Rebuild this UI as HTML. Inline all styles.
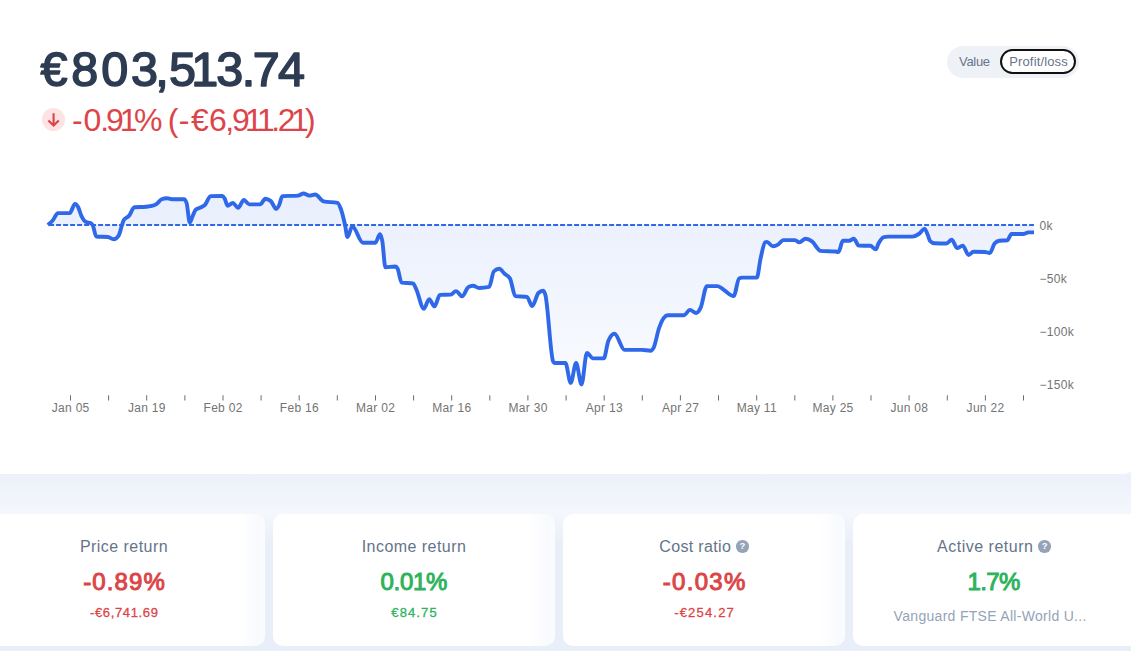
<!DOCTYPE html>
<html><head><meta charset="utf-8">
<style>
*{margin:0;padding:0;box-sizing:border-box}
html,body{width:1131px;height:651px;overflow:hidden}
body{background:#e9eff9;font-family:"Liberation Sans", Arial, sans-serif;position:relative}
.top{position:absolute;left:0;top:0;width:1134px;height:473.7px;background:#fff;border-bottom-right-radius:10px}
.chart{position:absolute;left:0;top:0}
.band{position:absolute;left:0;top:470px;width:1131px;height:72px;background:linear-gradient(to bottom,#ecf1fa 0,#ecf1fa 6px,#f4f7fc 44px,#e9eff9 72px)}
.ax{font-family:"Liberation Sans", Arial, sans-serif;font-size:12px;fill:#747474;letter-spacing:0.3px}
.big{font-family:"Liberation Sans", Arial, sans-serif;font-size:48.5px;font-weight:400;fill:#2d3c52;stroke:#2d3c52;stroke-width:1.6px;stroke-linejoin:round}
.chg{font-family:"Liberation Sans", Arial, sans-serif;font-size:32px;font-weight:400;fill:#dd4449}
.dot{position:absolute;left:41.8px;top:108.4px;width:23px;height:23px;border-radius:50%;background:#fde3e3}
.dot svg{position:absolute;left:0;top:0}
.tog{position:absolute;left:947px;top:46.2px;width:131.5px;height:31.5px;border-radius:16px;background:#eef2f7}
.tog .v{position:absolute;left:12px;top:8.8px;font-size:13px;line-height:1;color:#66758a;letter-spacing:-0.3px}
.tog .p{position:absolute;left:52.7px;top:2.8px;width:76.4px;height:25.1px;border-radius:13px;background:#fff;border:2px solid #111}
.tog .p span{position:absolute;left:7.5px;letter-spacing:0.15px;top:4.0px;font-size:13px;line-height:1;color:#66758a;white-space:nowrap}
.card{position:absolute;top:513.7px;width:282px;height:132.3px;background:linear-gradient(to right,#fff 0,#fff calc(100% - 26px),#f9fafe calc(100% - 6px),#fbfcfe 100%);border-radius:10px;text-align:center}
.ctitle{position:absolute;left:0;right:0;top:25.4px;font-size:16px;line-height:1;color:#64748b;white-space:nowrap}
.q{display:inline-block;width:12.5px;height:12.5px;border-radius:50%;background:#94a3b8;color:#fff;font-size:9.5px;font-weight:700;line-height:12.5px;text-align:center;margin-left:5px;vertical-align:3px;letter-spacing:0}
.cval{position:absolute;left:0;right:0;top:56.4px;font-size:24px;line-height:1;font-weight:400;-webkit-text-stroke:1px currentColor;white-space:nowrap}
.sub{position:absolute;left:0;right:0;top:92.1px;font-size:13px;line-height:1;white-space:nowrap;-webkit-text-stroke:0.3px currentColor}
.sub.gray{top:95.3px;font-size:14px;color:#94a3b8 !important;padding-right:8px;-webkit-text-stroke:0}
.red{color:#dc4548}
.green{color:#2db35c}
</style></head>
<body>
<div class="band"></div>
<div class="top"></div>
<svg class="chart" width="1131" height="474" viewBox="0 0 1131 474">
<defs><linearGradient id="g" x1="0" y1="190" x2="0" y2="390" gradientUnits="userSpaceOnUse"><stop offset="0" stop-color="#2f68e8" stop-opacity="0.11"/><stop offset="1" stop-color="#2f68e8" stop-opacity="0.025"/></linearGradient></defs>
<path d="M47.80,225.00 C49.43,223.69 51.07,222.37 52.70,220.50 C54.47,218.47 56.23,213.10 58.00,213.10 C61.90,213.10 65.80,213.10 69.70,213.10 C71.47,213.10 73.23,203.90 75.00,203.90 C76.07,203.90 77.13,205.32 78.20,207.30 C79.27,209.28 80.33,213.54 81.40,215.80 C83.00,219.19 84.60,221.35 86.20,222.10 C87.77,222.83 89.33,222.47 90.90,223.20 C91.60,223.53 92.30,224.35 93.00,225.80 C94.07,228.01 95.13,236.41 96.20,236.50 C100.10,236.83 104.00,236.67 107.90,237.00 C109.83,237.17 111.77,239.30 113.70,239.30 C115.30,239.30 116.90,238.17 118.50,235.90 C120.27,233.40 122.03,222.80 123.80,220.00 C125.57,217.20 127.33,217.92 129.10,215.80 C130.87,213.68 132.63,207.45 134.40,207.30 C138.30,206.97 142.20,207.13 146.10,206.80 C147.40,206.69 148.70,206.49 150.00,206.20 C152.13,205.73 154.27,205.47 156.40,204.10 C158.17,202.96 159.93,199.97 161.70,199.30 C163.47,198.63 165.23,198.30 167.00,198.30 C169.10,198.30 171.20,199.30 173.30,199.30 C176.87,199.30 180.43,199.10 184.00,199.10 C184.87,199.10 185.73,200.40 186.60,203.00 C187.67,206.20 188.73,222.70 189.80,222.70 C190.67,222.70 191.53,218.72 192.40,216.80 C193.47,214.43 194.53,210.94 195.60,209.90 C197.03,208.50 198.47,208.57 199.90,207.80 C201.67,206.85 203.43,206.55 205.20,204.60 C206.97,202.65 208.73,196.16 210.50,196.10 C214.37,195.97 218.23,195.90 222.10,195.90 C223.00,195.90 223.90,197.17 224.80,198.80 C225.70,200.43 226.60,205.70 227.50,205.70 C229.27,205.70 231.03,203.00 232.80,203.00 C234.57,203.00 236.33,207.80 238.10,207.80 C240.03,207.80 241.97,199.90 243.90,199.90 C245.67,199.90 247.43,204.40 249.20,204.40 C252.90,204.40 256.60,204.40 260.30,204.40 C261.97,204.40 263.63,198.80 265.30,198.80 C267.07,198.80 268.83,199.50 270.60,200.90 C272.53,202.43 274.47,208.90 276.40,208.90 C277.30,208.90 278.20,207.04 279.10,205.20 C280.17,203.02 281.23,196.17 282.30,196.10 C287.60,195.77 292.90,195.93 298.20,195.60 C299.97,195.49 301.73,193.50 303.50,193.50 C305.43,193.50 307.37,195.60 309.30,195.60 C311.27,195.60 313.23,194.50 315.20,194.50 C318.03,194.50 320.87,200.83 323.70,201.40 C328.30,202.33 332.90,201.87 337.50,202.80 C338.53,203.01 339.57,205.62 340.60,208.30 C342.03,212.01 343.47,217.93 344.90,224.30 C345.77,228.15 346.63,237.00 347.50,237.00 C349.10,237.00 350.70,226.40 352.30,226.40 C355.83,226.40 359.37,242.80 362.90,242.80 C367.07,242.80 371.23,242.77 375.40,242.70 C376.93,242.68 378.47,234.20 380.00,234.20 C380.77,234.20 381.53,237.03 382.30,241.10 C383.33,246.59 384.37,267.20 385.40,267.20 C388.73,267.20 392.07,266.50 395.40,266.50 C396.17,266.50 396.93,267.27 397.70,268.80 C398.97,271.32 400.23,282.42 401.50,282.60 C405.33,283.13 409.17,282.87 413.00,283.40 C414.03,283.54 415.07,286.75 416.10,288.80 C418.67,293.89 421.23,308.70 423.80,308.70 C425.60,308.70 427.40,299.20 429.20,299.20 C430.97,299.20 432.73,306.40 434.50,306.40 C436.30,306.40 438.10,295.00 439.90,294.90 C443.50,294.70 447.10,294.80 450.70,294.60 C452.47,294.50 454.23,291.10 456.00,291.10 C458.07,291.10 460.13,296.40 462.20,296.40 C464.23,296.40 466.27,288.50 468.30,287.20 C469.87,286.20 471.43,285.70 473.00,285.70 C475.03,285.70 477.07,288.00 479.10,288.00 C482.47,288.00 485.83,287.63 489.20,286.90 C490.73,286.57 492.27,273.09 493.80,271.50 C495.60,269.63 497.40,268.70 499.20,268.70 C501.00,268.70 502.80,272.18 504.60,273.80 C506.40,275.42 508.20,275.33 510.00,278.40 C511.77,281.41 513.53,295.86 515.30,296.10 C519.17,296.63 523.03,296.37 526.90,296.90 C528.67,297.14 530.43,306.10 532.20,306.10 C534.27,306.10 536.33,295.07 538.40,293.00 C539.93,291.47 541.47,290.70 543.00,290.70 C543.77,290.70 544.53,292.10 545.30,294.60 C547.90,303.08 550.50,356.30 553.10,361.50 C553.60,362.50 554.10,363.00 554.60,363.00 C558.20,363.00 561.80,363.00 565.40,363.00 C567.17,363.00 568.93,383.00 570.70,383.00 C572.50,383.00 574.30,363.00 576.10,363.00 C577.90,363.00 579.70,384.50 581.50,384.50 C583.30,384.50 585.10,353.00 586.90,353.00 C588.93,353.00 590.97,358.40 593.00,358.40 C596.60,358.40 600.20,358.40 603.80,358.40 C605.33,358.40 606.87,344.17 608.40,340.70 C610.43,336.10 612.47,333.80 614.50,333.80 C617.83,333.80 621.17,349.90 624.50,349.90 C630.13,349.90 635.77,349.90 641.40,349.90 C644.47,349.90 647.53,350.70 650.60,350.70 C651.63,350.70 652.67,349.62 653.70,347.60 C655.53,344.02 657.37,332.69 659.20,327.60 C662.03,319.73 664.87,315.30 667.70,315.30 C673.07,315.30 678.43,315.30 683.80,315.30 C685.87,315.30 687.93,309.90 690.00,309.90 C692.03,309.90 694.07,313.00 696.10,313.00 C697.63,313.00 699.17,310.90 700.70,307.60 C702.77,303.15 704.83,286.10 706.90,286.10 C710.47,286.10 714.03,286.10 717.60,286.10 C719.67,286.10 721.73,288.62 723.80,289.90 C727.10,291.94 730.40,296.10 733.70,296.10 C735.50,296.10 737.30,279.33 739.10,278.40 C740.13,277.87 741.17,277.60 742.20,277.60 C747.07,277.60 751.93,277.60 756.80,277.60 C758.07,277.60 759.33,263.91 760.60,258.40 C762.13,251.73 763.67,243.02 765.20,242.30 C765.77,242.03 766.33,241.90 766.90,241.90 C768.83,241.90 770.77,246.20 772.70,246.20 C774.47,246.20 776.23,245.62 778.00,244.60 C779.77,243.58 781.53,240.10 783.30,240.10 C787.20,240.10 791.10,240.10 795.00,240.10 C796.43,240.10 797.87,242.40 799.30,242.40 C801.40,242.40 803.50,238.70 805.60,238.70 C807.73,238.70 809.87,239.86 812.00,241.40 C814.83,243.44 817.67,250.67 820.50,250.90 C825.43,251.30 830.37,251.10 835.30,251.50 C836.37,251.59 837.43,252.00 838.50,252.00 C839.93,252.00 841.37,240.80 842.80,240.80 C844.90,240.80 847.00,240.80 849.10,240.80 C850.70,240.80 852.30,238.70 853.90,238.70 C855.50,238.70 857.10,245.54 858.70,245.60 C862.57,245.73 866.43,245.67 870.30,245.80 C872.13,245.86 873.97,249.30 875.80,249.30 C876.70,249.30 877.60,245.15 878.50,243.50 C880.27,240.27 882.03,237.52 883.80,237.10 C885.20,236.77 886.60,236.60 888.00,236.60 C896.13,236.60 904.27,236.60 912.40,236.60 C914.53,236.60 916.67,235.40 918.80,234.00 C920.73,232.73 922.67,228.90 924.60,228.90 C925.67,228.90 926.73,232.51 927.80,235.00 C928.53,236.72 929.27,240.02 930.00,240.80 C931.57,242.47 933.13,243.25 934.70,243.30 C938.60,243.43 942.50,243.50 946.40,243.50 C948.17,243.50 949.93,239.80 951.70,239.80 C953.53,239.80 955.37,248.00 957.20,248.00 C959.03,248.00 960.87,245.60 962.70,245.60 C964.67,245.60 966.63,255.00 968.60,255.00 C970.23,255.00 971.87,251.80 973.50,251.80 C977.33,251.80 981.17,251.87 985.00,252.00 C986.60,252.06 988.20,253.00 989.80,253.00 C991.40,253.00 993.00,245.34 994.60,243.50 C996.17,241.70 997.73,241.00 999.30,240.80 C1001.97,240.47 1004.63,240.63 1007.30,240.30 C1008.70,240.12 1010.10,234.00 1011.50,234.00 C1015.40,234.00 1019.30,234.00 1023.20,234.00 C1024.97,234.00 1026.73,232.40 1028.50,232.40 C1030.33,232.40 1032.17,232.40 1034.00,232.40 L1034.0,224.9 L47.8,224.9 Z" fill="url(#g)" stroke="none"/>
<line x1="48" y1="224.9" x2="1034" y2="224.9" stroke="#2f68e8" stroke-width="2" stroke-dasharray="5 2" stroke-dashoffset="5.9"/>
<path d="M47.80,225.00 C49.43,223.69 51.07,222.37 52.70,220.50 C54.47,218.47 56.23,213.10 58.00,213.10 C61.90,213.10 65.80,213.10 69.70,213.10 C71.47,213.10 73.23,203.90 75.00,203.90 C76.07,203.90 77.13,205.32 78.20,207.30 C79.27,209.28 80.33,213.54 81.40,215.80 C83.00,219.19 84.60,221.35 86.20,222.10 C87.77,222.83 89.33,222.47 90.90,223.20 C91.60,223.53 92.30,224.35 93.00,225.80 C94.07,228.01 95.13,236.41 96.20,236.50 C100.10,236.83 104.00,236.67 107.90,237.00 C109.83,237.17 111.77,239.30 113.70,239.30 C115.30,239.30 116.90,238.17 118.50,235.90 C120.27,233.40 122.03,222.80 123.80,220.00 C125.57,217.20 127.33,217.92 129.10,215.80 C130.87,213.68 132.63,207.45 134.40,207.30 C138.30,206.97 142.20,207.13 146.10,206.80 C147.40,206.69 148.70,206.49 150.00,206.20 C152.13,205.73 154.27,205.47 156.40,204.10 C158.17,202.96 159.93,199.97 161.70,199.30 C163.47,198.63 165.23,198.30 167.00,198.30 C169.10,198.30 171.20,199.30 173.30,199.30 C176.87,199.30 180.43,199.10 184.00,199.10 C184.87,199.10 185.73,200.40 186.60,203.00 C187.67,206.20 188.73,222.70 189.80,222.70 C190.67,222.70 191.53,218.72 192.40,216.80 C193.47,214.43 194.53,210.94 195.60,209.90 C197.03,208.50 198.47,208.57 199.90,207.80 C201.67,206.85 203.43,206.55 205.20,204.60 C206.97,202.65 208.73,196.16 210.50,196.10 C214.37,195.97 218.23,195.90 222.10,195.90 C223.00,195.90 223.90,197.17 224.80,198.80 C225.70,200.43 226.60,205.70 227.50,205.70 C229.27,205.70 231.03,203.00 232.80,203.00 C234.57,203.00 236.33,207.80 238.10,207.80 C240.03,207.80 241.97,199.90 243.90,199.90 C245.67,199.90 247.43,204.40 249.20,204.40 C252.90,204.40 256.60,204.40 260.30,204.40 C261.97,204.40 263.63,198.80 265.30,198.80 C267.07,198.80 268.83,199.50 270.60,200.90 C272.53,202.43 274.47,208.90 276.40,208.90 C277.30,208.90 278.20,207.04 279.10,205.20 C280.17,203.02 281.23,196.17 282.30,196.10 C287.60,195.77 292.90,195.93 298.20,195.60 C299.97,195.49 301.73,193.50 303.50,193.50 C305.43,193.50 307.37,195.60 309.30,195.60 C311.27,195.60 313.23,194.50 315.20,194.50 C318.03,194.50 320.87,200.83 323.70,201.40 C328.30,202.33 332.90,201.87 337.50,202.80 C338.53,203.01 339.57,205.62 340.60,208.30 C342.03,212.01 343.47,217.93 344.90,224.30 C345.77,228.15 346.63,237.00 347.50,237.00 C349.10,237.00 350.70,226.40 352.30,226.40 C355.83,226.40 359.37,242.80 362.90,242.80 C367.07,242.80 371.23,242.77 375.40,242.70 C376.93,242.68 378.47,234.20 380.00,234.20 C380.77,234.20 381.53,237.03 382.30,241.10 C383.33,246.59 384.37,267.20 385.40,267.20 C388.73,267.20 392.07,266.50 395.40,266.50 C396.17,266.50 396.93,267.27 397.70,268.80 C398.97,271.32 400.23,282.42 401.50,282.60 C405.33,283.13 409.17,282.87 413.00,283.40 C414.03,283.54 415.07,286.75 416.10,288.80 C418.67,293.89 421.23,308.70 423.80,308.70 C425.60,308.70 427.40,299.20 429.20,299.20 C430.97,299.20 432.73,306.40 434.50,306.40 C436.30,306.40 438.10,295.00 439.90,294.90 C443.50,294.70 447.10,294.80 450.70,294.60 C452.47,294.50 454.23,291.10 456.00,291.10 C458.07,291.10 460.13,296.40 462.20,296.40 C464.23,296.40 466.27,288.50 468.30,287.20 C469.87,286.20 471.43,285.70 473.00,285.70 C475.03,285.70 477.07,288.00 479.10,288.00 C482.47,288.00 485.83,287.63 489.20,286.90 C490.73,286.57 492.27,273.09 493.80,271.50 C495.60,269.63 497.40,268.70 499.20,268.70 C501.00,268.70 502.80,272.18 504.60,273.80 C506.40,275.42 508.20,275.33 510.00,278.40 C511.77,281.41 513.53,295.86 515.30,296.10 C519.17,296.63 523.03,296.37 526.90,296.90 C528.67,297.14 530.43,306.10 532.20,306.10 C534.27,306.10 536.33,295.07 538.40,293.00 C539.93,291.47 541.47,290.70 543.00,290.70 C543.77,290.70 544.53,292.10 545.30,294.60 C547.90,303.08 550.50,356.30 553.10,361.50 C553.60,362.50 554.10,363.00 554.60,363.00 C558.20,363.00 561.80,363.00 565.40,363.00 C567.17,363.00 568.93,383.00 570.70,383.00 C572.50,383.00 574.30,363.00 576.10,363.00 C577.90,363.00 579.70,384.50 581.50,384.50 C583.30,384.50 585.10,353.00 586.90,353.00 C588.93,353.00 590.97,358.40 593.00,358.40 C596.60,358.40 600.20,358.40 603.80,358.40 C605.33,358.40 606.87,344.17 608.40,340.70 C610.43,336.10 612.47,333.80 614.50,333.80 C617.83,333.80 621.17,349.90 624.50,349.90 C630.13,349.90 635.77,349.90 641.40,349.90 C644.47,349.90 647.53,350.70 650.60,350.70 C651.63,350.70 652.67,349.62 653.70,347.60 C655.53,344.02 657.37,332.69 659.20,327.60 C662.03,319.73 664.87,315.30 667.70,315.30 C673.07,315.30 678.43,315.30 683.80,315.30 C685.87,315.30 687.93,309.90 690.00,309.90 C692.03,309.90 694.07,313.00 696.10,313.00 C697.63,313.00 699.17,310.90 700.70,307.60 C702.77,303.15 704.83,286.10 706.90,286.10 C710.47,286.10 714.03,286.10 717.60,286.10 C719.67,286.10 721.73,288.62 723.80,289.90 C727.10,291.94 730.40,296.10 733.70,296.10 C735.50,296.10 737.30,279.33 739.10,278.40 C740.13,277.87 741.17,277.60 742.20,277.60 C747.07,277.60 751.93,277.60 756.80,277.60 C758.07,277.60 759.33,263.91 760.60,258.40 C762.13,251.73 763.67,243.02 765.20,242.30 C765.77,242.03 766.33,241.90 766.90,241.90 C768.83,241.90 770.77,246.20 772.70,246.20 C774.47,246.20 776.23,245.62 778.00,244.60 C779.77,243.58 781.53,240.10 783.30,240.10 C787.20,240.10 791.10,240.10 795.00,240.10 C796.43,240.10 797.87,242.40 799.30,242.40 C801.40,242.40 803.50,238.70 805.60,238.70 C807.73,238.70 809.87,239.86 812.00,241.40 C814.83,243.44 817.67,250.67 820.50,250.90 C825.43,251.30 830.37,251.10 835.30,251.50 C836.37,251.59 837.43,252.00 838.50,252.00 C839.93,252.00 841.37,240.80 842.80,240.80 C844.90,240.80 847.00,240.80 849.10,240.80 C850.70,240.80 852.30,238.70 853.90,238.70 C855.50,238.70 857.10,245.54 858.70,245.60 C862.57,245.73 866.43,245.67 870.30,245.80 C872.13,245.86 873.97,249.30 875.80,249.30 C876.70,249.30 877.60,245.15 878.50,243.50 C880.27,240.27 882.03,237.52 883.80,237.10 C885.20,236.77 886.60,236.60 888.00,236.60 C896.13,236.60 904.27,236.60 912.40,236.60 C914.53,236.60 916.67,235.40 918.80,234.00 C920.73,232.73 922.67,228.90 924.60,228.90 C925.67,228.90 926.73,232.51 927.80,235.00 C928.53,236.72 929.27,240.02 930.00,240.80 C931.57,242.47 933.13,243.25 934.70,243.30 C938.60,243.43 942.50,243.50 946.40,243.50 C948.17,243.50 949.93,239.80 951.70,239.80 C953.53,239.80 955.37,248.00 957.20,248.00 C959.03,248.00 960.87,245.60 962.70,245.60 C964.67,245.60 966.63,255.00 968.60,255.00 C970.23,255.00 971.87,251.80 973.50,251.80 C977.33,251.80 981.17,251.87 985.00,252.00 C986.60,252.06 988.20,253.00 989.80,253.00 C991.40,253.00 993.00,245.34 994.60,243.50 C996.17,241.70 997.73,241.00 999.30,240.80 C1001.97,240.47 1004.63,240.63 1007.30,240.30 C1008.70,240.12 1010.10,234.00 1011.50,234.00 C1015.40,234.00 1019.30,234.00 1023.20,234.00 C1024.97,234.00 1026.73,232.40 1028.50,232.40 C1030.33,232.40 1032.17,232.40 1034.00,232.40" fill="none" stroke="#2f68e8" stroke-width="3.9" stroke-linejoin="round" stroke-linecap="butt"/>
<line x1="70.5" y1="395.3" x2="70.5" y2="400.5" stroke="#6b6b6b" stroke-width="1"/>
<line x1="108.6" y1="395.3" x2="108.6" y2="400.5" stroke="#6b6b6b" stroke-width="1"/>
<line x1="146.7" y1="395.3" x2="146.7" y2="400.5" stroke="#6b6b6b" stroke-width="1"/>
<line x1="184.9" y1="395.3" x2="184.9" y2="400.5" stroke="#6b6b6b" stroke-width="1"/>
<line x1="223.0" y1="395.3" x2="223.0" y2="400.5" stroke="#6b6b6b" stroke-width="1"/>
<line x1="261.1" y1="395.3" x2="261.1" y2="400.5" stroke="#6b6b6b" stroke-width="1"/>
<line x1="299.2" y1="395.3" x2="299.2" y2="400.5" stroke="#6b6b6b" stroke-width="1"/>
<line x1="337.3" y1="395.3" x2="337.3" y2="400.5" stroke="#6b6b6b" stroke-width="1"/>
<line x1="375.5" y1="395.3" x2="375.5" y2="400.5" stroke="#6b6b6b" stroke-width="1"/>
<line x1="413.6" y1="395.3" x2="413.6" y2="400.5" stroke="#6b6b6b" stroke-width="1"/>
<line x1="451.7" y1="395.3" x2="451.7" y2="400.5" stroke="#6b6b6b" stroke-width="1"/>
<line x1="489.8" y1="395.3" x2="489.8" y2="400.5" stroke="#6b6b6b" stroke-width="1"/>
<line x1="527.9" y1="395.3" x2="527.9" y2="400.5" stroke="#6b6b6b" stroke-width="1"/>
<line x1="566.1" y1="395.3" x2="566.1" y2="400.5" stroke="#6b6b6b" stroke-width="1"/>
<line x1="604.2" y1="395.3" x2="604.2" y2="400.5" stroke="#6b6b6b" stroke-width="1"/>
<line x1="642.3" y1="395.3" x2="642.3" y2="400.5" stroke="#6b6b6b" stroke-width="1"/>
<line x1="680.4" y1="395.3" x2="680.4" y2="400.5" stroke="#6b6b6b" stroke-width="1"/>
<line x1="718.5" y1="395.3" x2="718.5" y2="400.5" stroke="#6b6b6b" stroke-width="1"/>
<line x1="756.7" y1="395.3" x2="756.7" y2="400.5" stroke="#6b6b6b" stroke-width="1"/>
<line x1="794.8" y1="395.3" x2="794.8" y2="400.5" stroke="#6b6b6b" stroke-width="1"/>
<line x1="832.9" y1="395.3" x2="832.9" y2="400.5" stroke="#6b6b6b" stroke-width="1"/>
<line x1="871.0" y1="395.3" x2="871.0" y2="400.5" stroke="#6b6b6b" stroke-width="1"/>
<line x1="909.1" y1="395.3" x2="909.1" y2="400.5" stroke="#6b6b6b" stroke-width="1"/>
<line x1="947.3" y1="395.3" x2="947.3" y2="400.5" stroke="#6b6b6b" stroke-width="1"/>
<line x1="985.4" y1="395.3" x2="985.4" y2="400.5" stroke="#6b6b6b" stroke-width="1"/>
<line x1="1023.5" y1="395.3" x2="1023.5" y2="400.5" stroke="#6b6b6b" stroke-width="1"/>
<text x="70.7" y="411.8" text-anchor="middle" class="ax">Jan 05</text>
<text x="146.9" y="411.8" text-anchor="middle" class="ax">Jan 19</text>
<text x="223.1" y="411.8" text-anchor="middle" class="ax">Feb 02</text>
<text x="299.4" y="411.8" text-anchor="middle" class="ax">Feb 16</text>
<text x="375.6" y="411.8" text-anchor="middle" class="ax">Mar 02</text>
<text x="451.8" y="411.8" text-anchor="middle" class="ax">Mar 16</text>
<text x="528.1" y="411.8" text-anchor="middle" class="ax">Mar 30</text>
<text x="604.3" y="411.8" text-anchor="middle" class="ax">Apr 13</text>
<text x="680.6" y="411.8" text-anchor="middle" class="ax">Apr 27</text>
<text x="756.8" y="411.8" text-anchor="middle" class="ax">May 11</text>
<text x="833.0" y="411.8" text-anchor="middle" class="ax">May 25</text>
<text x="909.3" y="411.8" text-anchor="middle" class="ax">Jun 08</text>
<text x="985.5" y="411.8" text-anchor="middle" class="ax">Jun 22</text>
<text x="1039.5" y="229.9" class="ax">0k</text>
<text x="1039.5" y="282.9" class="ax">−50k</text>
<text x="1039.5" y="335.8" class="ax">−100k</text>
<text x="1039.5" y="388.8" class="ax">−150k</text>
<text class="big" y="86.3" text-anchor="middle" x="54.1 84.7 114.7 144.4 162.1 182.6 204.8 229.7 248.5 266.3 291.4">€803,513.74</text>
<text class="chg" y="130.7" text-anchor="middle" x="77.4 92.5 104.8 114.9 128.6 148.2 160.0 173.2 184.1 199.8 218.0 229.8 240.8 254.0 265.9 275.7 286.7 299.9 310.3">-0.91% (-€6,911.21)</text>
</svg>
<div class="dot"><svg width="23" height="23" viewBox="0 0 23 23"><path d="M11.6 5.2v12.2M6.4 12.4l5.2 5.2 5.2-5.2" fill="none" stroke="#dd4449" stroke-width="2.1" stroke-linecap="butt" stroke-linejoin="miter"/></svg></div>
<div class="tog"><span class="v">Value</span><div class="p"><span>Profit/loss</span></div></div>
<div class="card" style="left:-17.0px">
  <div class="ctitle" style="letter-spacing:0.45px">Price return</div>
  <div class="cval red" style="letter-spacing:1.1px;padding-left:1.1px">-0.89%</div>
  <div class="sub red" style="letter-spacing:0.64px;padding-left:0.64px">-€6,741.69</div>
</div>
<div class="card" style="left:273.0px">
  <div class="ctitle" style="letter-spacing:0.45px">Income return</div>
  <div class="cval green" style="letter-spacing:-0.3px;padding-right:0.3px">0.01%</div>
  <div class="sub green" style="letter-spacing:1.1px;padding-left:1.1px">€84.75</div>
</div>
<div class="card" style="left:563.0px">
  <div class="ctitle" style="letter-spacing:0.35px">Cost ratio<span class="q">?</span></div>
  <div class="cval red" style="letter-spacing:1.3px;padding-left:1.3px">-0.03%</div>
  <div class="sub red" style="letter-spacing:1.2px;padding-left:1.2px">-€254.27</div>
</div>
<div class="card" style="left:853.0px;background:#fff;border-top-right-radius:0;border-bottom-right-radius:0">
  <div class="ctitle" style="letter-spacing:0.5px">Active return<span class="q">?</span></div>
  <div class="cval green" style="letter-spacing:-0.6px;padding-right:0.6px">1.7%</div>
  <div class="sub gray green" style="letter-spacing:0.3px;padding-left:0.3px">Vanguard FTSE All-World U...</div>
</div>
</body></html>
